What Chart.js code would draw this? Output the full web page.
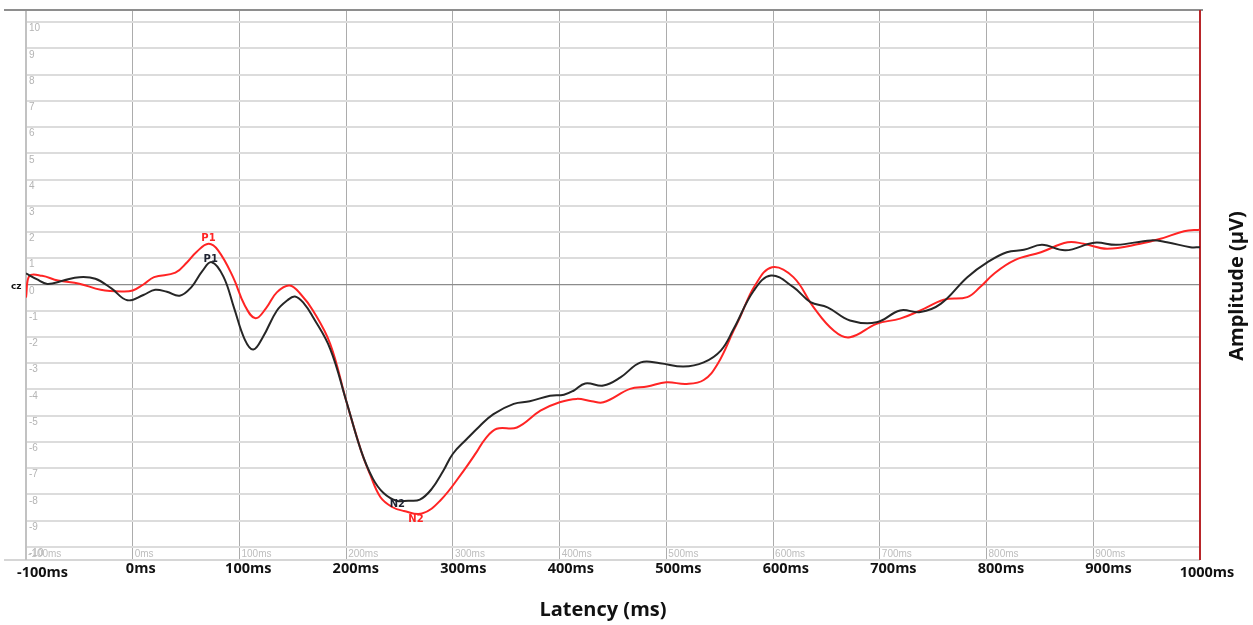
<!DOCTYPE html>
<html>
<head>
<meta charset="utf-8">
<script src="https://cdn.jsdelivr.net/npm/chart.js@4/dist/chart.umd.min.js"></script>
<style>
  html, body { margin: 0; padding: 0; background: #ffffff; }
  #wrap { width: 1253px; height: 625px; position: relative; }
</style>
</head>
<body>
<div id="wrap"><canvas id="erp" width="1253" height="625"></canvas></div>
<script>
// Grand-average ERP at electrode Cz, two conditions (black and red traces)
const latencyTicks = [-100, 0, 100, 200, 300, 400, 500, 600, 700, 800, 900, 1000];
const latencyTickLabels = ["-100ms", "0ms", "100ms", "200ms", "300ms", "400ms", "500ms", "600ms", "700ms", "800ms", "900ms", "1000ms"];
const amplitudeTicks = [10, 9, 8, 7, 6, 5, 4, 3, 2, 1, 0, -1, -2, -3, -4, -5, -6, -7, -8, -9, -10];
const amplitudeTickLabels = ["10", "9", "8", "7", "6", "5", "4", "3", "2", "1", "0", "-1", "-2", "-3", "-4", "-5", "-6", "-7", "-8", "-9", "-10"];
const channelName = "cz";

// black trace: latency (ms) and amplitude (µV)
const blackTimes = [-100, -90, -80, -65, -50, -35, -20, -5, 10, 21, 32, 44, 55, 65, 74, 85, 95, 105, 113, 122, 135, 145, 152, 160, 169, 185, 200, 214, 225, 235, 247, 258, 269, 280, 291, 300, 313, 325, 338, 357, 372, 391, 404, 413, 424, 441, 457, 476, 494, 516, 535, 551, 563, 582, 598, 619, 635, 651, 672, 697, 719, 738, 757, 782, 801, 819, 835, 852, 874, 901, 922, 954, 969, 991, 1000];
const blackValues = [0.42, 0.2, 0.02, 0.15, 0.28, 0.22, -0.15, -0.6, -0.4, -0.2, -0.28, -0.43, -0.1, 0.5, 0.85, 0.3, -0.9, -2.1, -2.48, -2.0, -1.0, -0.6, -0.46, -0.7, -1.25, -2.45, -4.43, -6.34, -7.4, -7.95, -8.24, -8.24, -8.2, -7.8, -7.1, -6.45, -5.89, -5.4, -4.94, -4.55, -4.45, -4.24, -4.2, -4.05, -3.77, -3.85, -3.54, -2.97, -3.0, -3.13, -2.97, -2.52, -1.7, -0.23, 0.34, -0.1, -0.67, -0.87, -1.37, -1.44, -0.99, -1.05, -0.74, 0.28, 0.85, 1.23, 1.32, 1.51, 1.3, 1.59, 1.51, 1.68, 1.61, 1.42, 1.42];

// red trace: latency (ms) and amplitude (µV)
const redTimes = [-100, -97, -85, -70, -50, -30, -10, 0, 10, 20, 40, 51, 60, 71, 80, 94, 105, 115, 125, 135, 147, 158, 169, 185, 200, 214, 222, 232, 243, 254, 271, 288, 310, 322, 330, 341, 360, 382, 400, 416, 430, 441, 466, 482, 500, 519, 535, 548, 563, 569, 583, 599, 619, 638, 657, 672, 697, 719, 738, 760, 782, 794, 807, 826, 851, 876, 891, 913, 944, 963, 985, 1000];
const redValues = [-0.5, 0.32, 0.33, 0.15, 0.03, -0.2, -0.27, -0.23, 0.0, 0.28, 0.45, 0.85, 1.25, 1.55, 1.3, 0.28, -0.8, -1.29, -0.9, -0.3, -0.04, -0.4, -1.0, -2.26, -4.43, -6.34, -7.2, -8.1, -8.48, -8.63, -8.73, -8.24, -7.1, -6.4, -5.9, -5.5, -5.45, -4.81, -4.49, -4.36, -4.45, -4.49, -3.98, -3.89, -3.73, -3.79, -3.64, -3.03, -1.76, -1.25, -0.04, 0.66, 0.28, -0.87, -1.76, -2.01, -1.5, -1.3, -0.99, -0.58, -0.48, -0.1, 0.41, 0.92, 1.23, 1.61, 1.55, 1.36, 1.55, 1.74, 2.03, 2.09];

const componentNames = ["P1", "N2"];

const BLACK = "#262626";
const RED = "#ff2424";

function toPoints(times, values) {
  return times.map((t, i) => ({ x: t, y: values[i] }));
}

// index of the extreme value of a trace inside a latency window
function extremeIndex(times, values, from, to, sign) {
  let best = -1;
  for (let i = 0; i < times.length; i++) {
    if (times[i] < from || times[i] > to) continue;
    if (best < 0 || sign * values[i] > sign * values[best]) best = i;
  }
  return best;
}

const frameAndText = {
  id: "frameAndText",
  beforeDatasetsDraw(chart) {
    const { ctx, chartArea: a, scales } = chart;
    const xs = scales.x, ys = scales.y;
    ctx.save();
    // frame
    ctx.lineWidth = 2;
    ctx.strokeStyle = "#d6d6d6";
    ctx.beginPath(); ctx.moveTo(4, a.bottom); ctx.lineTo(a.right, a.bottom); ctx.stroke();
    ctx.strokeStyle = "#c2c2c2";
    ctx.beginPath(); ctx.moveTo(a.left, a.top); ctx.lineTo(a.left, a.bottom); ctx.stroke();
    ctx.strokeStyle = "#8e8e8e";
    ctx.beginPath(); ctx.moveTo(4, a.top); ctx.lineTo(a.right + 3, a.top); ctx.stroke();
    ctx.strokeStyle = "#b8262a";
    ctx.beginPath(); ctx.moveTo(a.right, a.top); ctx.lineTo(a.right, a.bottom); ctx.stroke();

    // amplitude tick labels, inside the plot just under each grid line
    ctx.fillStyle = "#b4b4b4";
    ctx.font = "10px 'Liberation Sans', Arial, sans-serif";
    ctx.textAlign = "left";
    ctx.textBaseline = "top";
    amplitudeTicks.forEach((v, i) => {
      ctx.fillText(amplitudeTickLabels[i], a.left + 3, ys.getPixelForValue(v) + 1.5);
    });
    // small latency labels along the bottom of the plot
    ctx.fillStyle = "#bdbdbd";
    ctx.textBaseline = "alphabetic";
    latencyTicks.forEach((t, i) => {
      if (t >= 1000) return;
      ctx.fillText(latencyTickLabels[i], xs.getPixelForValue(t) + 2, a.bottom - 3);
    });
    ctx.restore();
  },
  afterDraw(chart) {
    const { ctx, chartArea: a, scales } = chart;
    const xs = scales.x, ys = scales.y;
    ctx.save();
    // bold latency labels under the plot
    ctx.fillStyle = "#111111";
    ctx.font = "bold 14.5px 'Open Sans', sans-serif";
    ctx.textBaseline = "alphabetic";
    latencyTicks.forEach((t, i) => {
      const px = xs.getPixelForValue(t);
      const label = latencyTickLabels[i];
      if (i === 0) {
        ctx.textAlign = "left";
        ctx.fillText(label, px - 9, a.bottom + 17);
      } else if (i === latencyTicks.length - 1) {
        ctx.textAlign = "center";
        ctx.fillText(label, px + 7, a.bottom + 17);
      } else {
        ctx.textAlign = "center";
        ctx.fillText(label, px + 8 + t * 0.008, a.bottom + 12.5);
      }
    });

    // axis titles
    ctx.font = "bold 20px 'Open Sans', sans-serif";
    ctx.textAlign = "center";
    ctx.textBaseline = "middle";
    ctx.fillText("Latency (ms)", 603, 610);
    ctx.save();
    ctx.translate(1237, 286);
    ctx.rotate(-Math.PI / 2);
    ctx.fillText("Amplitude (µV)", 0, 0);
    ctx.restore();

    // channel name at the zero line
    ctx.font = "bold 9px 'DejaVu Sans', sans-serif";
    ctx.textAlign = "left";
    ctx.fillText(channelName, 11, ys.getPixelForValue(0) + 2);

    // component labels at each trace's peaks
    ctx.font = "bold 10px 'DejaVu Sans', sans-serif";
    ctx.textAlign = "center";
    const bP1 = extremeIndex(blackTimes, blackValues, 40, 110, 1);
    const rP1 = extremeIndex(redTimes, redValues, 40, 110, 1);
    const bN2 = extremeIndex(blackTimes, blackValues, 200, 320, -1);
    const rN2 = extremeIndex(redTimes, redValues, 200, 320, -1);
    ctx.textBaseline = "bottom";
    ctx.fillStyle = RED;
    ctx.fillText(componentNames[0], xs.getPixelForValue(redTimes[rP1]), ys.getPixelForValue(redValues[rP1]) - 0.5);
    ctx.fillStyle = "#1e2230";
    ctx.fillText(componentNames[0], xs.getPixelForValue(blackTimes[bP1]) - 1, ys.getPixelForValue(blackValues[bP1]) + 2.5);
    ctx.textBaseline = "top";
    ctx.fillStyle = "#1e2230";
    ctx.fillText(componentNames[1], xs.getPixelForValue(blackTimes[bN2]) + 1, ys.getPixelForValue(blackValues[bN2]) - 1);
    ctx.fillStyle = RED;
    ctx.fillText(componentNames[1], xs.getPixelForValue(redTimes[rN2]) - 6, ys.getPixelForValue(redValues[rN2]) + 1);
    ctx.restore();
  }
};

new Chart(document.getElementById("erp"), {
  type: "line",
  data: {
    datasets: [
      {
        label: "black",
        data: toPoints(blackTimes, blackValues),
        borderColor: BLACK,
        borderWidth: 2,
        pointRadius: 0,
        tension: 0.4,
        fill: false
      },
      {
        label: "red",
        data: toPoints(redTimes, redValues),
        borderColor: RED,
        borderWidth: 2,
        pointRadius: 0,
        tension: 0.4,
        fill: false
      }
    ]
  },
  options: {
    responsive: false,
    animation: false,
    layout: { padding: { left: 26, right: 53, top: 10, bottom: 65 } },
    plugins: { legend: { display: false }, tooltip: { enabled: false } },
    scales: {
      x: {
        type: "linear",
        min: -100,
        max: 1000,
        afterFit: s => { s.height = 0; },
        afterBuildTicks: s => { s.ticks = latencyTicks.map(v => ({ value: v })); },
        ticks: { display: false },
        border: { display: false },
        grid: {
          drawTicks: false,
          color: "#acacac",
          lineWidth: 1
        }
      },
      y: {
        type: "linear",
        min: -10.5,
        max: 10.46,
        afterFit: s => { s.width = 0; },
        afterBuildTicks: s => { s.ticks = amplitudeTicks.map(v => ({ value: v })); },
        ticks: { display: false },
        border: { display: false },
        grid: {
          drawTicks: false,
          color: c => (c.tick && c.tick.value === 0 ? "#8c8c8c" : "#dcdcdc"),
          lineWidth: c => (c.tick && c.tick.value === 0 ? 1.2 : 2)
        }
      }
    }
  },
  plugins: [frameAndText]
});
</script>
</body>
</html>
